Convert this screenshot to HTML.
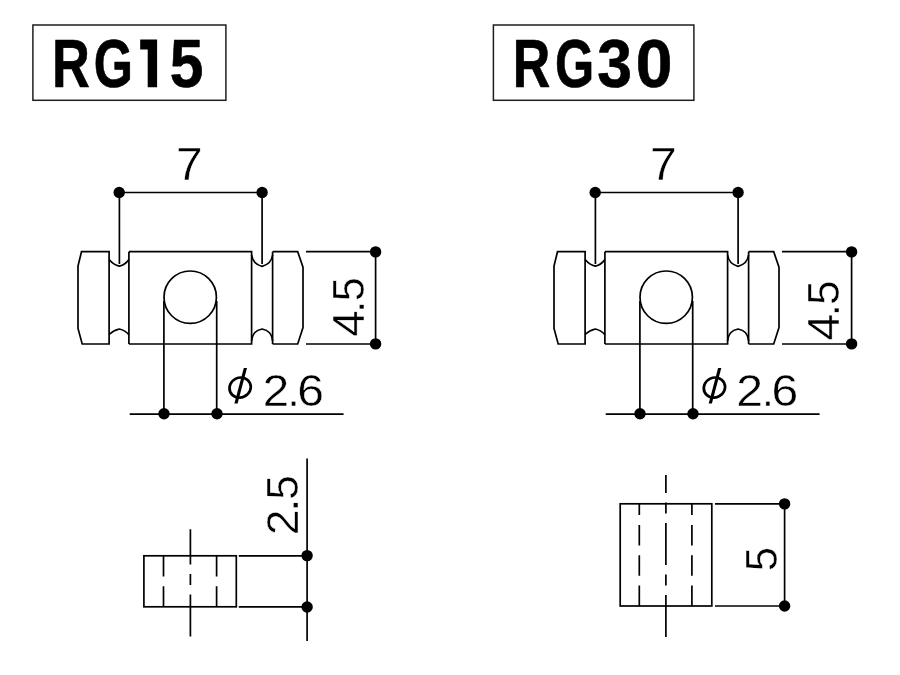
<!DOCTYPE html>
<html><head><meta charset="utf-8">
<style>
html,body{margin:0;padding:0;background:#fff;width:900px;height:675px;overflow:hidden}
svg{display:block;filter:grayscale(1)}
text{font-family:"Liberation Sans",sans-serif;fill:#000}
</style></head>
<body>
<svg width="900" height="675" viewBox="0 0 900 675">
<rect x="0" y="0" width="900" height="675" fill="#fff"/>
<rect x="32.9" y="25" width="193" height="75.3" fill="none" stroke="#1e1e1e" stroke-width="1.5"/>
<text transform="translate(52.10,87.10) scale(0.5230,0.6890)" font-size="100" font-weight="bold" stroke="#000" stroke-width="0.990" stroke-linejoin="round">R</text>
<text transform="translate(93.73,87.10) scale(0.5038,0.6890)" font-size="100" font-weight="bold" stroke="#000" stroke-width="1.006" stroke-linejoin="round">G</text>
<text transform="translate(169.64,87.10) scale(0.6050,0.6890)" font-size="100" font-weight="bold" stroke="#000" stroke-width="0.927" stroke-linejoin="round">5</text>
<path d="M140.2,39.6 L157.1,39.6 L157.1,87.2 L147.7,87.2 L147.7,49.4 L140.2,49.4 Z" fill="#000"/>
<rect x="493.4" y="25" width="200.5" height="75.3" fill="none" stroke="#1e1e1e" stroke-width="1.5"/>
<text transform="translate(512.82,87.10) scale(0.5199,0.6890)" font-size="100" font-weight="bold" stroke="#000" stroke-width="0.993" stroke-linejoin="round">R</text>
<text transform="translate(555.03,87.10) scale(0.5038,0.6890)" font-size="100" font-weight="bold" stroke="#000" stroke-width="1.006" stroke-linejoin="round">G</text>
<text transform="translate(597.26,87.10) scale(0.6257,0.6890)" font-size="100" font-weight="bold" stroke="#000" stroke-width="0.913" stroke-linejoin="round">3</text>
<text transform="translate(635.79,87.10) scale(0.6602,0.6890)" font-size="100" font-weight="bold" stroke="#000" stroke-width="0.889" stroke-linejoin="round">0</text>
<g transform="translate(0,0)">
  <g fill="none" stroke="#000" stroke-width="1.7" stroke-linejoin="miter">
    <line x1="119.4" y1="192.5" x2="262.1" y2="192.5"/>
    <line x1="119.4" y1="192.5" x2="119.4" y2="264"/>
    <line x1="262.1" y1="192.5" x2="262.1" y2="264"/>
    <path d="M109.1,251.7 L81.5,251.7 L78,266 L78,328.4 L82.2,344 L109.1,344 Z"/>
    <line x1="128.9" y1="251.7" x2="128.9" y2="344"/>
    <path d="M109.1,259.5 Q113.5,264.8 119.4,266.2 Q125.3,264.8 128.9,259.5"/>
    <path d="M109.1,334.5 Q113.5,330.3 119.4,329 Q125.3,330.3 128.9,334.7"/>
    <path d="M128.9,251.7 L251.6,251.7 L251.6,344 L128.9,344"/>
    <line x1="272.6" y1="251.7" x2="272.6" y2="344"/>
    <path d="M251.6,255 C252.6,262 256,264.8 262.1,266.3 C268.2,264.8 271.6,262 272.6,255"/>
    <path d="M251.6,341 C252.6,333 256,330.4 262.1,329 C268.2,330.4 271.6,333 272.6,341"/>
    <path d="M272.6,251.7 L297.7,251.7 L303,267.2 L303,327.6 L297.7,344 L272.6,344"/>
    <circle cx="190.2" cy="297.2" r="26.2"/>
    <line x1="163.9" y1="301" x2="163.9" y2="414"/>
    <line x1="216.7" y1="301" x2="216.7" y2="414"/>
    <line x1="306" y1="251.7" x2="380" y2="251.7"/>
    <line x1="306" y1="344" x2="380" y2="344"/>
    <line x1="375.6" y1="251.7" x2="375.6" y2="344"/>
    <line x1="129.7" y1="414.1" x2="343.6" y2="414.1"/>
  </g>
  <g fill="#000">
    <circle cx="119.2" cy="192.5" r="5.7"/><circle cx="262.1" cy="192.5" r="5.7"/><circle cx="375.6" cy="251.9" r="5.7"/><circle cx="375.6" cy="343.9" r="5.7"/><circle cx="164" cy="413.8" r="5.7"/><circle cx="217" cy="413.8" r="5.7"/>
  </g>
</g>
<g transform="translate(0,0)">
  <ellipse cx="0" cy="0" rx="10.8" ry="9.9" fill="none" stroke="#000" stroke-width="2.7" transform="translate(240.1,387.6) rotate(-25)"/>
  <polygon points="243.8,368 247,368 237.6,403.6 234.4,403.6" fill="#000"/>
</g>
<text transform="translate(176.12,180.03) scale(0.4785,0.4571)" font-size="100" font-weight="normal" stroke="#fff" stroke-width="0.962">7</text>
<text transform="translate(262.68,406.12) scale(0.4752,0.4499)" font-size="100" font-weight="normal" stroke="#fff" stroke-width="0.973">2</text>
<text transform="translate(287.20,406.12) scale(0.4569,0.4499)" font-size="100" font-weight="normal" stroke="#fff" stroke-width="0.993">.</text>
<text transform="translate(297.24,406.12) scale(0.4800,0.4499)" font-size="100" font-weight="normal" stroke="#fff" stroke-width="0.968">6</text>
<text transform="translate(364.23,336.82) rotate(-90) scale(0.4753,0.4440)" font-size="100" font-weight="normal" stroke="#fff" stroke-width="0.979">4</text>
<text transform="translate(364.23,313.10) rotate(-90) scale(0.4464,0.4440)" font-size="100" font-weight="normal" stroke="#fff" stroke-width="1.011">.</text>
<text transform="translate(364.23,301.16) rotate(-90) scale(0.4334,0.4440)" font-size="100" font-weight="normal" stroke="#fff" stroke-width="1.026">5</text>
<g transform="translate(476,0)">
  <g fill="none" stroke="#000" stroke-width="1.7" stroke-linejoin="miter">
    <line x1="119.4" y1="192.5" x2="262.1" y2="192.5"/>
    <line x1="119.4" y1="192.5" x2="119.4" y2="264"/>
    <line x1="262.1" y1="192.5" x2="262.1" y2="264"/>
    <path d="M109.1,251.7 L81.5,251.7 L78,266 L78,328.4 L82.2,344 L109.1,344 Z"/>
    <line x1="128.9" y1="251.7" x2="128.9" y2="344"/>
    <path d="M109.1,259.5 Q113.5,264.8 119.4,266.2 Q125.3,264.8 128.9,259.5"/>
    <path d="M109.1,334.5 Q113.5,330.3 119.4,329 Q125.3,330.3 128.9,334.7"/>
    <path d="M128.9,251.7 L251.6,251.7 L251.6,344 L128.9,344"/>
    <line x1="272.6" y1="251.7" x2="272.6" y2="344"/>
    <path d="M251.6,255 C252.6,262 256,264.8 262.1,266.3 C268.2,264.8 271.6,262 272.6,255"/>
    <path d="M251.6,341 C252.6,333 256,330.4 262.1,329 C268.2,330.4 271.6,333 272.6,341"/>
    <path d="M272.6,251.7 L297.7,251.7 L303,267.2 L303,327.6 L297.7,344 L272.6,344"/>
    <circle cx="190.2" cy="297.2" r="26.2"/>
    <line x1="163.9" y1="301" x2="163.9" y2="414"/>
    <line x1="216.7" y1="301" x2="216.7" y2="414"/>
    <line x1="306" y1="251.7" x2="380" y2="251.7"/>
    <line x1="306" y1="344" x2="380" y2="344"/>
    <line x1="375.6" y1="251.7" x2="375.6" y2="344"/>
    <line x1="129.7" y1="414.1" x2="343.6" y2="414.1"/>
  </g>
  <g fill="#000">
    <circle cx="119.2" cy="192.5" r="5.7"/><circle cx="262.1" cy="192.5" r="5.7"/><circle cx="375.6" cy="251.9" r="5.7"/><circle cx="375.6" cy="343.9" r="5.7"/><circle cx="164" cy="413.8" r="5.7"/><circle cx="217" cy="413.8" r="5.7"/>
  </g>
</g>
<g transform="translate(474.3,0)">
  <ellipse cx="0" cy="0" rx="10.8" ry="9.9" fill="none" stroke="#000" stroke-width="2.7" transform="translate(240.1,387.6) rotate(-25)"/>
  <polygon points="243.8,368 247,368 237.6,403.6 234.4,403.6" fill="#000"/>
</g>
<text transform="translate(650.11,180.03) scale(0.4807,0.4571)" font-size="100" font-weight="normal" stroke="#fff" stroke-width="0.960">7</text>
<text transform="translate(736.35,406.12) scale(0.4818,0.4499)" font-size="100" font-weight="normal" stroke="#fff" stroke-width="0.966">2</text>
<text transform="translate(762.09,406.12) scale(0.4254,0.4499)" font-size="100" font-weight="normal" stroke="#fff" stroke-width="1.028">.</text>
<text transform="translate(771.54,406.12) scale(0.4800,0.4499)" font-size="100" font-weight="normal" stroke="#fff" stroke-width="0.968">6</text>
<text transform="translate(838.62,340.52) rotate(-90) scale(0.4773,0.4440)" font-size="100" font-weight="normal" stroke="#fff" stroke-width="0.977">4</text>
<text transform="translate(838.62,316.20) rotate(-90) scale(0.4359,0.4440)" font-size="100" font-weight="normal" stroke="#fff" stroke-width="1.023">.</text>
<text transform="translate(838.62,304.89) rotate(-90) scale(0.4419,0.4440)" font-size="100" font-weight="normal" stroke="#fff" stroke-width="1.016">5</text>
<g fill="none" stroke="#000" stroke-width="1.7">
  <rect x="143.9" y="555.8" width="92.4" height="51"/>
  <line x1="163.5" y1="606.8" x2="163.5" y2="555.8" stroke-dasharray="20.5 9.8"/>
  <line x1="216.6" y1="606.8" x2="216.6" y2="555.8" stroke-dasharray="20.5 9.8"/>
  <line x1="190.4" y1="636.4" x2="190.4" y2="529.3" stroke-dasharray="42 9.5 11 9.5"/>
  <line x1="238.8" y1="555.8" x2="307" y2="555.8"/>
  <line x1="238.8" y1="606.8" x2="307" y2="606.8"/>
  <line x1="307.1" y1="458.5" x2="307.1" y2="641"/>
</g>
<g fill="#000"><circle cx="307.1" cy="555.6" r="5.7"/><circle cx="307.1" cy="607" r="5.7"/></g>
<text transform="translate(297.53,535.26) rotate(-90) scale(0.4643,0.4499)" font-size="100" font-weight="normal" stroke="#fff" stroke-width="0.985">2</text>
<text transform="translate(297.53,511.69) rotate(-90) scale(0.4779,0.4499)" font-size="100" font-weight="normal" stroke="#fff" stroke-width="0.970">.</text>
<text transform="translate(297.53,499.79) rotate(-90) scale(0.4419,0.4499)" font-size="100" font-weight="normal" stroke="#fff" stroke-width="1.009">5</text>
<g fill="none" stroke="#000" stroke-width="1.7">
  <rect x="620.2" y="503.8" width="91.6" height="102.2"/>
  <line x1="639.3" y1="606" x2="639.3" y2="503.8" stroke-dasharray="20.5 9.8"/>
  <line x1="691.9" y1="606" x2="691.9" y2="503.8" stroke-dasharray="20.5 9.8"/>
  <line x1="665.9" y1="637" x2="665.9" y2="475" stroke-dasharray="42 9.5 11 9.5"/>
  <line x1="715" y1="503.9" x2="784" y2="503.9"/>
  <line x1="715" y1="606" x2="784" y2="606"/>
  <line x1="784.6" y1="503.9" x2="784.6" y2="606"/>
</g>
<g fill="#000"><circle cx="784.6" cy="503.9" r="5.7"/><circle cx="784.6" cy="606" r="5.7"/></g>
<text transform="translate(777.02,571.28) rotate(-90) scale(0.4377,0.4513)" font-size="100" font-weight="normal" stroke="#fff" stroke-width="1.012">5</text>
</svg>
</body></html>
